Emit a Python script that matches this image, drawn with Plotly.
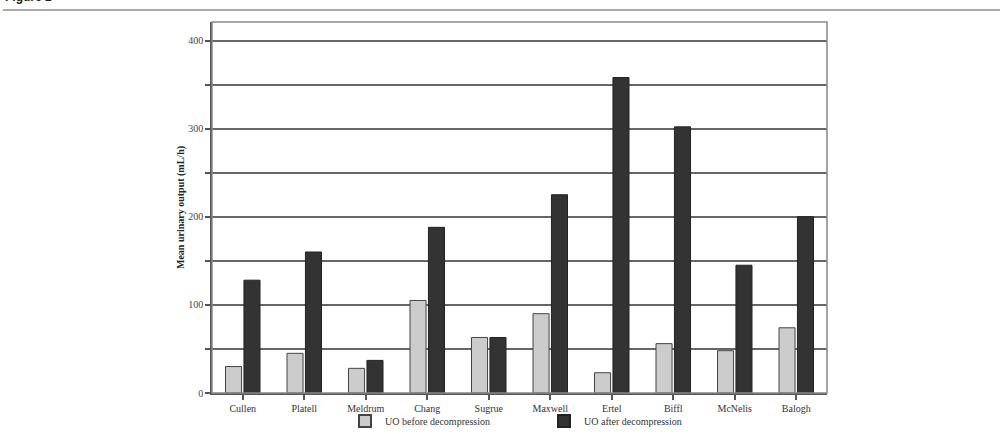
import plotly.graph_objects as go

studies = ["Cullen", "Platell", "Meldrum", "Chang", "Sugrue", "Maxwell", "Ertel", "Biffl", "McNelis", "Balogh"]
uo_before = [30, 45, 28, 105, 63, 90, 23, 56, 48, 74]
uo_after = [128, 160, 37, 188, 63, 225, 358, 302, 145, 200]
y_ticks = [0, 50, 100, 150, 200, 250, 300, 350, 400]
y_tick_text = ["0", "", "100", "", "200", "", "300", "", "400"]

W, H = 1004, 434
L, R, T, B = 212, 177, 22, 41
pw, ph = W - L - R, H - T - B

serif = "Liberation Serif, Times New Roman, serif"

fig = go.Figure()
fig.add_trace(go.Bar(x=studies, y=uo_before, name="UO before decompression",
                     marker=dict(color="#cccccc", line=dict(color="#444444", width=1))))
fig.add_trace(go.Bar(x=studies, y=uo_after, name="UO after decompression",
                     marker=dict(color="#333333", line=dict(color="#222222", width=1))))

fig.update_layout(
    width=W, height=H,
    margin=dict(l=L, r=R, t=T, b=B, pad=0, autoexpand=False),
    paper_bgcolor="white", plot_bgcolor="white",
    barmode="group", bargap=0.4, bargroupgap=0.13,
    font=dict(family=serif, size=10, color="#333333"),
    showlegend=True,
    legend=dict(orientation="h", x=(345 - L) / pw, xanchor="left",
                yref="container", y=1 - 421 / H, yanchor="middle",
                entrywidth=154, entrywidthmode="pixels",
                font=dict(family=serif, size=10, color="#333333"),
                bgcolor="rgba(0,0,0,0)", itemsizing="constant"),
)
fig.update_xaxes(showline=True, linecolor="#555555", linewidth=1.5, mirror=False,
                 ticks="outside", ticklen=5, tickcolor="#555555", tickwidth=1.5,
                 tickson="labels", showgrid=False, automargin=False,
                 tickfont=dict(family=serif, size=10, color="#333333"))
fig.update_yaxes(range=[0, 421], tickvals=y_ticks, ticktext=y_tick_text,
                 showline=True, linecolor="#555555", linewidth=1.5,
                 ticks="outside", ticklen=5, tickcolor="#555555", tickwidth=1.5,
                 showgrid=True, gridcolor="#666666", gridwidth=1.5, zeroline=False,
                 automargin=False,
                 tickfont=dict(family=serif, size=10, color="#444444"),
                 title=dict(text="<b>Mean urinary output (mL/h)</b>", standoff=2,
                            font=dict(family=serif, size=10, color="#222222")))

# plot frame (top and right)
fig.add_shape(type="rect", xref="paper", yref="paper", x0=0, x1=1, y0=0, y1=1,
              line=dict(color="#888888", width=1.5), layer="above")
# header rule
fig.add_shape(type="line", xref="paper", yref="paper",
              x0=(3 - L) / pw, x1=(1000 - L) / pw,
              y0=1 + (T - 10) / ph, y1=1 + (T - 10) / ph,
              line=dict(color="#555555", width=1))
fig.add_annotation(text="<b>Figure 2</b>", xref="paper", yref="paper",
                   x=(3 - L) / pw, y=1 + (T - 6) / ph, xanchor="left", yanchor="bottom",
                   showarrow=False, font=dict(family="Liberation Sans, Arial, sans-serif",
                                              size=12, color="#222222"))

fig.write_html("out.html")
